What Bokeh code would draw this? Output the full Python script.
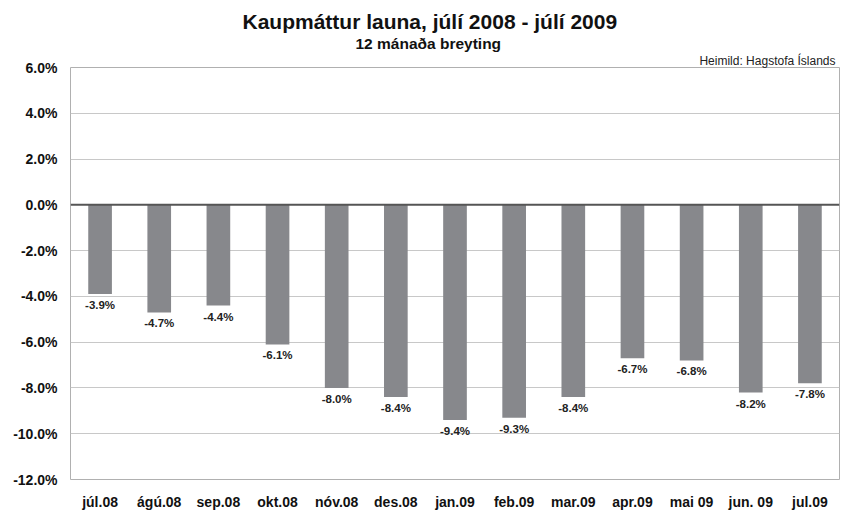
from bokeh.plotting import figure
from bokeh.models import ColumnDataSource, Span, Title, FixedTicker, PrintfTickFormatter, Range1d
from bokeh.core.properties import value
from bokeh.embed import file_html
from bokeh.resources import INLINE

months = ["júl.08", "ágú.08", "sep.08", "okt.08", "nóv.08", "des.08", "jan.09",
          "feb.09", "mar.09", "apr.09", "mai 09", "jun. 09", "jul.09"]
change = [-3.9, -4.7, -4.4, -6.1, -8.0, -8.4, -9.4, -9.3, -8.4, -6.7, -6.8, -8.2, -7.8]
labels = ["%.1f%%" % v for v in change]
y_ticks = [-12, -10, -8, -6, -4, -2, 0, 2, 4, 6]

src = ColumnDataSource(dict(m=months, v=change, lab=labels))

FONT = "Liberation Sans"
p = figure(x_range=months, y_range=Range1d(-12, 6), width=842, height=512,
           output_backend="svg", toolbar_location=None, title=None,
           min_border_left=70, min_border_right=3, min_border_top=67, min_border_bottom=33)

p.add_layout(Title(text="Heimild: Hagstofa Íslands", align="right", text_font=FONT,
                   text_font_size="12px", text_font_style="normal", text_color="#222222",
                   standoff=0, offset=4), "above")
p.add_layout(Title(text="12 mánaða breyting", align="left", offset=285, text_font=FONT,
                   text_font_size="15.5px", text_font_style="bold", text_color="#111111",
                   standoff=0), "above")
p.add_layout(Title(text="Kaupmáttur launa, júlí 2008 - júlí 2009", align="left", offset=172,
                   text_font=FONT, text_font_size="21px", text_font_style="bold",
                   text_color="#111111", standoff=0), "above")

p.vbar(x="m", top="v", bottom=0, width=0.4, source=src, fill_color="#87888c", line_color=None)
p.text(x="m", y="v", text="lab", source=src, text_align="center", text_baseline="top",
       y_offset=5, text_font=value(FONT), text_font_size="11.5px", text_font_style="bold",
       text_color="#222222")

p.add_layout(Span(location=0, dimension="width", line_color="#555555", line_width=2))

p.yaxis.ticker = FixedTicker(ticks=y_ticks)
p.yaxis.formatter = PrintfTickFormatter(format="%.1f%%")
for ax in (p.xaxis, p.yaxis):
    ax.axis_line_color = None
    ax.major_tick_line_color = None
    ax.minor_tick_line_color = None
    ax.major_tick_out = 0
    ax.major_tick_in = 0
    ax.major_label_text_font = FONT
    ax.major_label_text_font_size = "14px"
    ax.major_label_text_font_style = "bold"
    ax.major_label_text_color = "#111111"
p.yaxis.major_label_standoff = 13
p.xaxis.major_label_standoff = 14

p.xgrid.grid_line_color = None
p.ygrid.grid_line_color = "#c8c8c8"
p.ygrid.grid_line_width = 1
p.outline_line_color = "#b0b0b0"
p.outline_line_width = 1
p.background_fill_color = "white"
p.border_fill_color = "white"

open("out.html", "w").write(file_html(p, INLINE))
